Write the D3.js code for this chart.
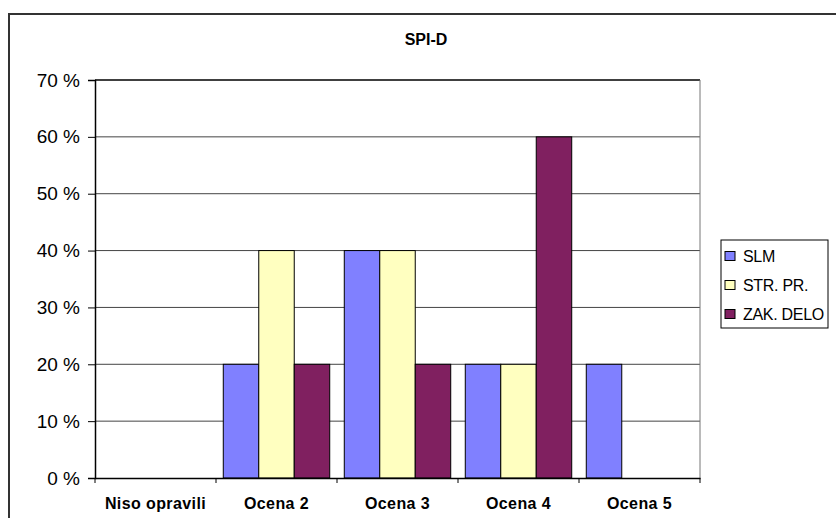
<!DOCTYPE html>
<html lang="en">
<head>
<meta charset="utf-8">
<title>SPI-D</title>
<style>
  body { margin: 0; background: #fff; }
  svg { display: block; font-family: "Liberation Sans", Arial, sans-serif; }
</style>
</head>
<body>
<svg id="chart" width="836" height="518"></svg>
<script src="https://cdn.jsdelivr.net/npm/d3@7"></script>
<script>
const categories = ["Niso opravili", "Ocena 2", "Ocena 3", "Ocena 4", "Ocena 5"];
const seriesNames = ["SLM", "STR. PR.", "ZAK. DELO"];
const slm = [0, 20, 40, 20, 20];
const strPr = [0, 40, 40, 20, 0];
const zakDelo = [0, 20, 20, 60, 0];
const yTicks = [0, 10, 20, 30, 40, 50, 60, 70];
const colors = ["#8080ff", "#ffffc0", "#802060"];

const values = [slm, strPr, zakDelo];
const svg = d3.select("#chart");
const font = "Liberation Sans, Arial, sans-serif";

// outer chart border (right/bottom run off the picture)
svg.append("rect")
  .attr("x", 9).attr("y", 14).attr("width", 900).attr("height", 600)
  .attr("fill", "none").attr("stroke", "#333").attr("stroke-width", 2);

svg.append("text")
  .attr("x", 426).attr("y", 45)
  .attr("text-anchor", "middle")
  .attr("font-size", 16).attr("font-weight", "bold")
  .text("SPI-D");

const plot = { left: 95, top: 80, right: 700, bottom: 478 };

const x = d3.scaleBand().domain(categories).range([plot.left, plot.right]);
const xs = d3.scaleBand().domain(seriesNames)
  .range([0, x.bandwidth()]).paddingOuter(0.205).paddingInner(0);
const y = d3.scaleLinear().domain([0, 70]).range([plot.bottom, plot.top]);

// grid
svg.append("g").selectAll("line")
  .data(yTicks.slice(1))
  .join("line")
  .attr("x1", plot.left).attr("x2", plot.right)
  .attr("y1", d => y(d)).attr("y2", d => y(d))
  .attr("stroke", d => d === 70 ? "#000" : "#444")
  .attr("stroke-width", d => d === 70 ? 1.5 : 1);

// right plot edge
svg.append("line")
  .attr("x1", plot.right).attr("x2", plot.right)
  .attr("y1", plot.top).attr("y2", plot.bottom)
  .attr("stroke", "#777");

// bars
const rows = categories.map((c, i) => seriesNames.map((s, j) => ({ c, s, j, v: values[j][i] })));
svg.append("g").selectAll("g")
  .data(rows)
  .join("g")
  .attr("transform", d => `translate(${x(d[0].c)},0)`)
  .selectAll("rect")
  .data(d => d.filter(e => e.v > 0))
  .join("rect")
  .attr("x", d => xs(d.s))
  .attr("y", d => y(d.v))
  .attr("width", xs.bandwidth())
  .attr("height", d => y(0) - y(d.v))
  .attr("fill", d => colors[d.j])
  .attr("stroke", "#000").attr("stroke-width", 1);

// y axis
const yAxis = svg.append("g")
  .attr("transform", `translate(${plot.left},0)`)
  .call(d3.axisLeft(y).tickValues(yTicks).tickSize(7).tickPadding(8)
    .tickFormat(d => d + " %"));
yAxis.select(".domain").attr("stroke", "#000").attr("stroke-width", 1.5);
yAxis.selectAll("text").attr("font-size", 19).attr("font-family", font).attr("fill", "#000");

// x axis
const xAxis = svg.append("g")
  .attr("transform", `translate(0,${plot.bottom})`)
  .call(d3.axisBottom(x).tickSize(0).tickPadding(20));
xAxis.select(".domain").attr("stroke", "#000").attr("stroke-width", 1.5);
xAxis.selectAll("text").attr("font-size", 16).attr("font-weight", "bold")
  .attr("letter-spacing", 0.4)
  .attr("font-family", font).attr("fill", "#000");
svg.append("g").selectAll("line")
  .data(d3.range(categories.length + 1))
  .join("line")
  .attr("x1", d => plot.left + d * x.step()).attr("x2", d => plot.left + d * x.step())
  .attr("y1", plot.bottom).attr("y2", plot.bottom + 5)
  .attr("stroke", "#000");

// legend
const legend = svg.append("g").attr("transform", "translate(721,240)");
legend.append("rect").attr("width", 107).attr("height", 88)
  .attr("fill", "#fff").attr("stroke", "#000");
const li = legend.selectAll("g.item")
  .data(seriesNames)
  .join("g").attr("class", "item")
  .attr("transform", (d, i) => `translate(4,${16 + i * 29})`);
li.append("rect").attr("x", 0).attr("y", -4.5).attr("width", 10).attr("height", 9)
  .attr("fill", (d, i) => colors[i]).attr("stroke", "#000");
li.append("text").attr("x", 18).attr("y", 0).attr("dy", "0.35em")
  .attr("font-size", 16).attr("letter-spacing", -0.3).text(d => d);
</script>
</body>
</html>
